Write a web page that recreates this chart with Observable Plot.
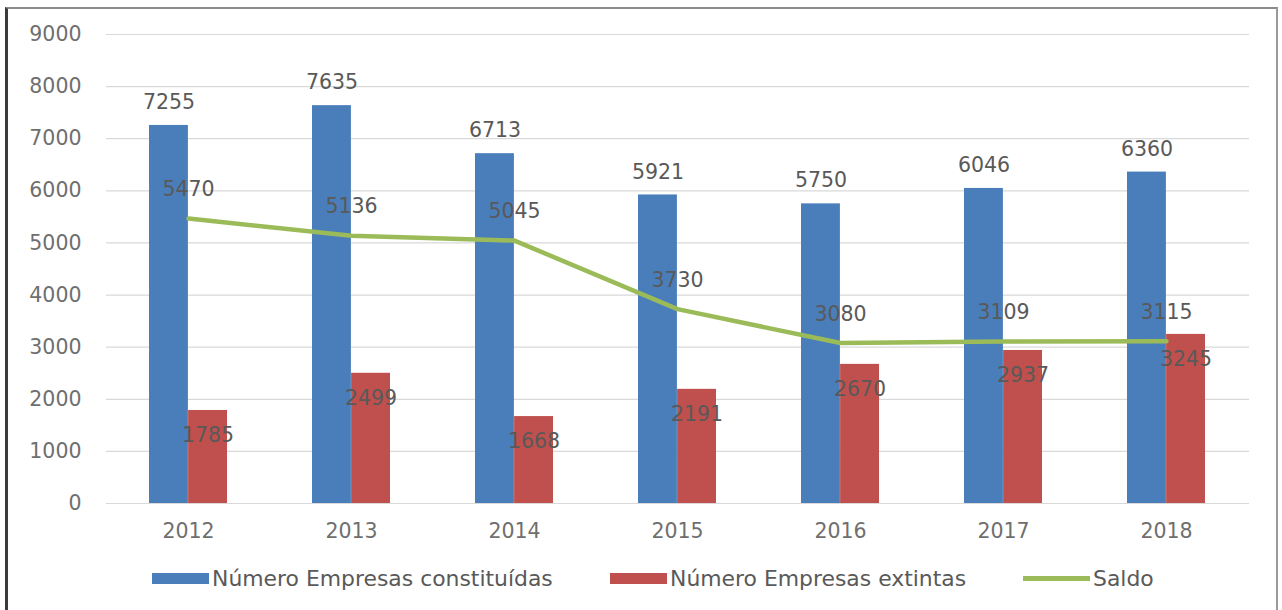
<!DOCTYPE html>
<html>
<head>
<meta charset="utf-8">
<script src="https://cdn.jsdelivr.net/npm/d3@7"></script>
<script src="https://cdn.jsdelivr.net/npm/@observablehq/plot@0.6"></script>
<style>
  html, body { margin: 0; padding: 0; background: #fff; }
  body { width: 1282px; height: 610px; overflow: hidden; position: relative; }
  #frame { position: absolute; left: 5px; top: 7px; width: 1268px; height: 640px;
           border-left: 3px solid #3c3c3c; border-top: 2px solid #8c8c8c; border-right: 2px solid #9a9a9a; }
  #chart { position: absolute; left: 0; top: 0; }
  #legend { position: absolute; left: 0; top: 565px; width: 1282px; height: 26px;
            font-family: "DejaVu Sans", sans-serif; font-size: 21.9px; color: #595959; }
  .item { position: absolute; top: 0; height: 26px; display: flex; align-items: center; white-space: nowrap; }
  .sw { width: 57px; height: 11px; margin-right: 3px; }
  .ln { width: 67px; height: 5px; margin-right: 3px; }
</style>
</head>
<body>
<div id="frame"></div>
<div id="chart"></div>
<div id="legend"></div>
<script>
const years = ["2012", "2013", "2014", "2015", "2016", "2017", "2018"];
const constituidas = [7255, 7635, 6713, 5921, 5750, 6046, 6360];
const extintas = [1785, 2499, 1668, 2191, 2670, 2937, 3245];
const saldo = [5470, 5136, 5045, 3730, 3080, 3109, 3115];
const seriesNames = ["Número Empresas constituídas", "Número Empresas extintas", "Saldo"];
const seriesColors = ["#4a7ebb", "#c0504d", "#9bbb59"];
const yTicks = [0, 1000, 2000, 3000, 4000, 5000, 6000, 7000, 8000, 9000];

const data = years.map((year, i) => ({year, c: constituidas[i], e: extintas[i], s: saldo[i]}));
const labelColor = "#595959";
const axisColor = "#6f6f6f";

const chart = Plot.plot({
  width: 1282,
  height: 560,
  marginLeft: 106,
  marginRight: 33,
  marginTop: 34,
  marginBottom: 57,
  style: {fontFamily: "DejaVu Sans, sans-serif", fontSize: "20.5px", color: labelColor, background: "transparent"},
  x: {domain: years, paddingInner: 0.52, paddingOuter: 0.26, label: null},
  y: {domain: [0, 9000], label: null},
  marks: [
    Plot.gridY(yTicks, {stroke: "#d9d9d9", strokeOpacity: 1, strokeWidth: 1.2}),
    Plot.axisY(yTicks, {tickSize: 0, tickPadding: 25, label: null, fill: axisColor, tickFormat: d => String(d)}),
    Plot.axisX({tickSize: 0, tickPadding: 20, label: null, fill: axisColor}),
    Plot.barY(data, {x: "year", y: "c", fill: seriesColors[0], insetRight: 39.1}),
    Plot.barY(data, {x: "year", y: "e", fill: seriesColors[1], insetLeft: 39.1}),
    Plot.line(data, {x: "year", y: "s", stroke: seriesColors[2], strokeWidth: 4.5}),
    Plot.text(data, {x: "year", y: "c", text: d => String(d.c), dx: -19.5, dy: -23, fill: labelColor}),
    Plot.text(data, {x: "year", y: "e", text: d => String(d.e), dx: 19.5, dy: 25, fill: labelColor}),
    Plot.text(data, {x: "year", y: "s", text: d => String(d.s), dy: -29, fill: labelColor})
  ]
});
document.getElementById("chart").appendChild(chart);

const legend = document.getElementById("legend");
const legendLeft = [152, 610, 1023];
seriesNames.forEach((name, i) => {
  const item = document.createElement("div");
  item.className = "item";
  item.style.left = legendLeft[i] + "px";
  const sw = document.createElement("div");
  sw.className = i === 2 ? "ln" : "sw";
  sw.style.background = seriesColors[i];
  const t = document.createElement("span");
  t.textContent = name;
  item.appendChild(sw);
  item.appendChild(t);
  legend.appendChild(item);
});
</script>
</body>
</html>
